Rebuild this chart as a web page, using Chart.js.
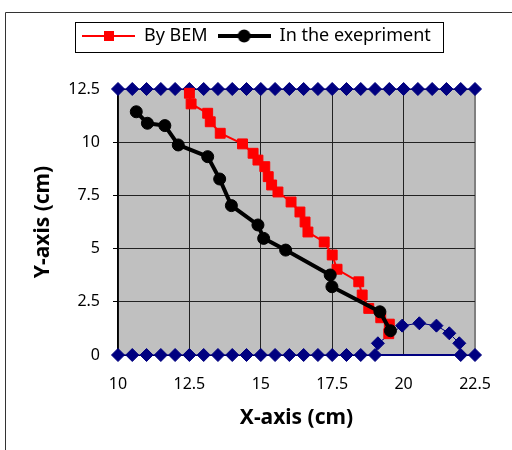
<!DOCTYPE html>
<html>
<head>
<meta charset="utf-8">
<script src="https://cdn.jsdelivr.net/npm/chart.js@4/dist/chart.umd.min.js"></script>
<style>
  body { margin: 0; background: #fff; }
  #wrap { width: 512px; height: 450px; }
</style>
</head>
<body>
<div id="wrap"><canvas id="myChart" width="512" height="450"></canvas></div>
<script>
// data block
const seriesNames = ["By BEM", "In the exepriment"];

const bemX = [12.5, 12.56, 13.14, 13.23, 13.58, 14.36, 14.73, 14.9, 15.14, 15.26, 15.38, 15.6, 16.06,
              16.37, 16.55, 16.65, 17.22, 17.5, 17.67, 18.43, 18.55, 18.78, 19.2, 19.5, 19.48];
const bemY = [12.3, 11.8, 11.36, 10.96, 10.42, 9.92, 9.48, 9.16, 8.85, 8.38, 7.99, 7.66, 7.19,
              6.72, 6.25, 5.78, 5.31, 4.7, 4.03, 3.44, 2.82, 2.19, 1.75, 1.45, 1.0];

const expX = [10.64, 11.03, 11.64, 12.11, 13.14, 13.56, 13.97, 14.9, 15.1, 15.87, 17.43, 17.49, 19.17, 19.54];
const expY = [11.43, 10.89, 10.78, 9.87, 9.32, 8.27, 7.02, 6.11, 5.48, 4.93, 3.76, 3.21, 2.03, 1.14];

// specimen boundary (top edge and bottom edge with the bump)
const topX = [10, 10.5, 11, 11.5, 12, 12.5, 13, 13.5, 14, 14.5, 15, 15.5, 16, 16.5, 17, 17.5,
              18, 18.5, 19, 19.5, 20, 20.5, 21, 21.5, 22, 22.5];
const topY = [12.5, 12.5, 12.5, 12.5, 12.5, 12.5, 12.5, 12.5, 12.5, 12.5, 12.5, 12.5, 12.5, 12.5, 12.5, 12.5,
              12.5, 12.5, 12.5, 12.5, 12.5, 12.5, 12.5, 12.5, 12.5, 12.5];
const botX = [10, 10.5, 11, 11.5, 12, 12.5, 13, 13.5, 14, 14.5, 15, 15.5, 16, 16.5, 17, 17.5,
              18, 18.5, 19, 19.1, 19.95, 20.55, 21.15, 21.6, 21.95, 22, 22.5];
const botY = [0, 0, 0, 0, 0, 0, 0, 0, 0, 0, 0, 0, 0, 0, 0, 0,
              0, 0, 0, 0.55, 1.38, 1.49, 1.38, 1.02, 0.55, 0, 0];
const baseX = [19, 22];
const baseY = [0, 0];

const xTicks = [10, 12.5, 15, 17.5, 20, 22.5];
const yTicks = [0, 2.5, 5, 7.5, 10, 12.5];

const toPoints = (xs, ys) => xs.map((x, i) => ({x: x, y: ys[i]}));

Chart.defaults.font.family = "'Noto Sans', sans-serif";
Chart.defaults.color = '#000';

// legend icons: line with the marker in the middle
function legendIcon(color, lineWidth, marker) {
    const c = document.createElement('canvas');
    c.width = 53;
    c.height = 16;
    const g = c.getContext('2d');
    g.strokeStyle = color;
    g.fillStyle = color;
    g.lineWidth = lineWidth;
    g.beginPath();
    g.moveTo(0, 8);
    g.lineTo(53, 8);
    g.stroke();
    if (marker === 'rect') {
        g.fillRect(22, 3, 10, 10);
    } else {
        g.beginPath();
        g.arc(26.5, 8, 6.5, 0, Math.PI * 2);
        g.fill();
    }
    return c;
}
const legendIcons = [legendIcon('#ff0000', 2, 'rect'), legendIcon('#000000', 4, 'circle')];

const framePlugin = {
    id: 'framePlugin',
    afterLayout(chart) {
        // move the legend so its first item starts where the original one does
        const lg = chart.legend;
        const pad = lg.options.labels.padding;
        const cur = (lg.left + pad + lg.right - lg.lineWidths[0]) / 2;
        const d = 82 - cur;
        lg.left += d;
        lg.right += d;
    },
    beforeDraw(chart) {
        const {ctx, chartArea: a} = chart;
        ctx.save();
        ctx.fillStyle = '#ffffff';
        ctx.fillRect(0, 0, chart.width, chart.height);
        ctx.fillStyle = '#c0c0c0';
        ctx.fillRect(a.left, a.top, a.right - a.left, a.bottom - a.top);
        ctx.strokeStyle = '#333';
        ctx.lineWidth = 1;
        ctx.beginPath();
        ctx.moveTo(5.5, chart.height);
        ctx.lineTo(5.5, 12.5);
        ctx.lineTo(chart.width, 12.5);
        ctx.stroke();
        const hb = chart.legend.legendHitBoxes;
        if (hb && hb.length) {
            const l = Math.round(hb[0].left - 7);
            const last = hb[hb.length - 1];
            const r = Math.round(last.left + last.width + 12);
            ctx.strokeStyle = '#000';
            ctx.strokeRect(l + 0.5, 22.5, r - l, 30);
        }
        ctx.restore();
    }
};

const data = {
    datasets: [{
        label: seriesNames[0],
        data: toPoints(bemX, bemY),
        showLine: true,
        borderColor: '#ff0000',
        backgroundColor: '#ff0000',
        borderWidth: 2,
        pointStyle: 'rect',
        pointRadius: 7,
        pointBorderWidth: 1,
        order: 1,
        clip: false
    }, {
        label: seriesNames[1],
        data: toPoints(expX, expY),
        showLine: true,
        borderColor: '#000000',
        backgroundColor: '#000000',
        borderWidth: 4,
        pointStyle: 'circle',
        pointRadius: 6,
        pointBorderWidth: 1,
        order: 0,
        clip: false
    }, {
        label: 'top',
        data: toPoints(topX, topY),
        showLine: true,
        borderColor: '#000080',
        backgroundColor: '#000080',
        borderWidth: 1,
        pointStyle: 'rectRot',
        pointRadius: 6.5,
        order: 2,
        clip: false
    }, {
        label: 'bottom',
        data: toPoints(botX, botY),
        showLine: true,
        borderColor: '#000080',
        backgroundColor: '#000080',
        borderWidth: 1,
        pointStyle: 'rectRot',
        pointRadius: 6.5,
        order: 2,
        clip: false
    }, {
        label: 'base',
        data: toPoints(baseX, baseY),
        showLine: true,
        borderColor: '#000080',
        borderWidth: 2,
        pointRadius: 0,
        order: 3,
        clip: false
    }]
};

const config = {
    type: 'scatter',
    data: data,
    plugins: [framePlugin],
    options: {
        responsive: false,
        animation: false,
        events: [],
        layout: {
            padding: {top: 17, right: 37, bottom: 0, left: 0}
        },
        elements: {
            line: {tension: 0}
        },
        scales: {
            x: {
                type: 'linear',
                min: xTicks[0],
                max: xTicks[xTicks.length - 1],
                afterFit: (scale) => { scale.height = 95; },
                afterBuildTicks: (scale) => { scale.ticks = xTicks.map(v => ({value: v})); },
                ticks: {
                    padding: 20,
                    color: '#000',
                    font: {size: 16},
                    callback: (v) => String(v)
                },
                grid: {
                    drawTicks: false,
                    color: (ctx) => ctx.index === xTicks.length - 1 ? '#808080' : '#222',
                    lineWidth: (ctx) => ctx.index === xTicks.length - 1 ? 2 : 1
                },
                border: {color: '#000', width: 1},
                title: {
                    display: true,
                    text: 'X-axis (cm)',
                    color: '#000',
                    font: {size: 21, weight: 'bold'},
                    padding: {top: 0, bottom: 19}
                }
            },
            y: {
                type: 'linear',
                min: yTicks[0],
                max: yTicks[yTicks.length - 1],
                afterFit: (scale) => { scale.width = 118; },
                afterBuildTicks: (scale) => { scale.ticks = yTicks.map(v => ({value: v})); },
                ticks: {
                    padding: 13,
                    color: '#000',
                    font: {size: 16},
                    callback: (v) => String(v)
                },
                grid: {
                    color: '#222',
                    tickColor: '#000',
                    tickLength: 5
                },
                border: {color: '#000', width: 1.5},
                title: {
                    display: true,
                    text: 'Y-axis (cm)',
                    color: '#000',
                    font: {size: 21, weight: 'bold'},
                    padding: {top: 30, bottom: 0}
                }
            }
        },
        plugins: {
            tooltip: {enabled: false},
            legend: {
                position: 'top',
                labels: {
                    usePointStyle: true,
                    pointStyleWidth: 53,
                    padding: 10,
                    color: '#000',
                    font: {size: 18},
                    filter: (item) => item.datasetIndex < 2,
                    sort: (a, b) => a.datasetIndex - b.datasetIndex,
                    generateLabels: (chart) => {
                        const items = Chart.defaults.plugins.legend.labels.generateLabels(chart);
                        items.forEach(it => { it.pointStyle = legendIcons[it.datasetIndex]; });
                        return items;
                    }
                }
            }
        }
    }
};

// legend gets extra space below it so the plot starts lower
const legendGap = {
    id: 'legendGap',
    beforeInit(chart) {
        const fit = chart.legend.fit;
        chart.legend.fit = function () {
            fit.bind(chart.legend)();
            this.height += 34;
        };
    }
};
config.plugins.push(legendGap);

// init render block
const myChart = new Chart(
    document.getElementById('myChart'),
    config
);
</script>
</body>
</html>
